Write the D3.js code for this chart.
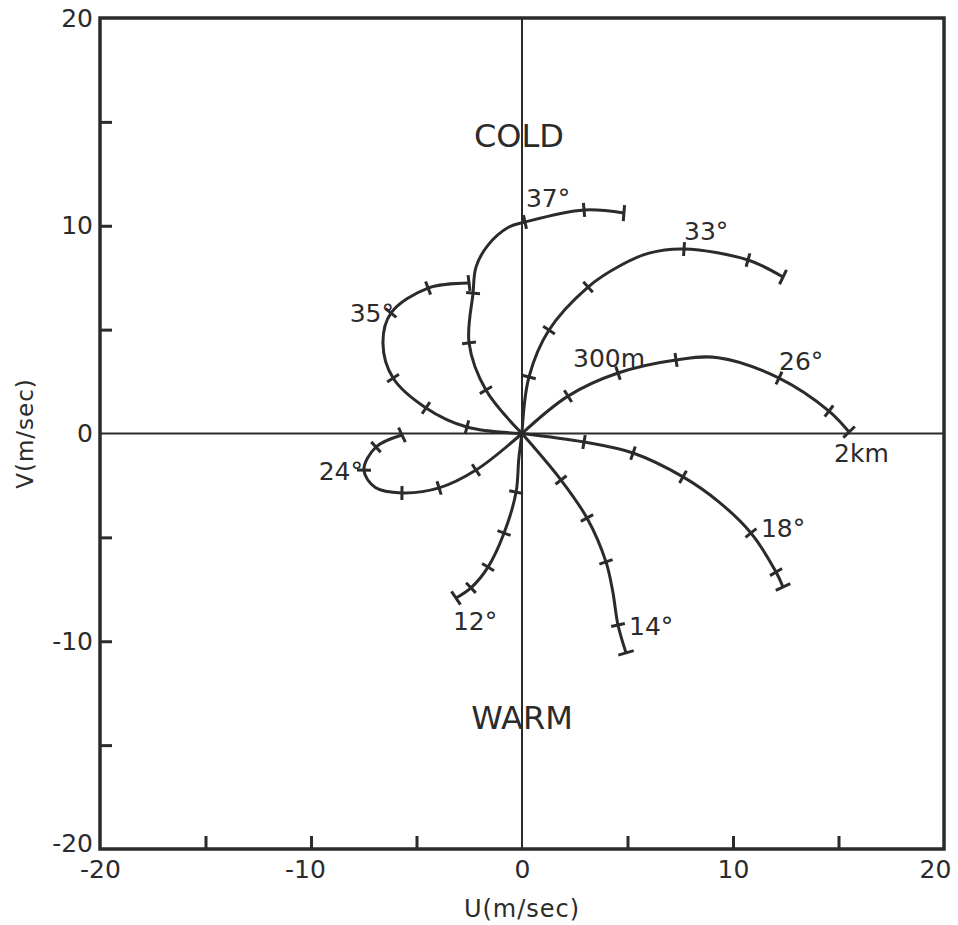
<!DOCTYPE html>
<html>
<head>
<meta charset="utf-8">
<script src="https://cdn.jsdelivr.net/npm/d3@7"></script>
<style>
  body { margin: 0; background: #fff; }
  text { font-family: "DejaVu Sans", sans-serif; fill: #2b2b2b; }
</style>
</head>
<body>
<svg width="958" height="925"></svg>
<script>
// hodograph points [u, v] in m/sec, surface to 2 km; third value 0 = no height mark
var lat37 = [[0,0],[-1.71,2.09],[-2.51,4.36],[-2.32,6.76],[-2.18,8.01,0],[-1.61,9.07,0],[-0.62,9.94,0],[0.14,10.18],[2.94,10.76],[4.83,10.61]];
var lat35 = [[0,0],[-2.61,0.31],[-4.55,1.23],[-6.11,2.67],[-6.59,4.36,0],[-6.21,5.80],[-4.45,7.00],[-2.51,7.24]];
var lat33 = [[0,0],[0.33,2.72],[1.28,4.98],[3.13,7.05],[4.6,8.05,0],[6.02,8.68,0],[7.68,8.88],[10.71,8.35],[12.37,7.53]];
var lat26 = [[0,0],[2.18,1.80],[4.55,2.91],[7.30,3.54],[9.3,3.65,0],[12.18,2.67],[14.55,1.08],[15.5,0.07]];
var lat24 = [[0,0],[-2.18,-1.76],[-3.93,-2.62],[-5.69,-2.86],[-6.95,-2.6,0],[-7.49,-1.76],[-6.92,-0.65],[-5.69,-0.07]];
var lat18 = [[0,0],[2.94,-0.41],[5.26,-0.94],[7.63,-2.09],[9.34,-3.3,0],[10.85,-4.79],[12.04,-6.67],[12.37,-7.39]];
var lat14 = [[0,0],[1.85,-2.24],[3.08,-4.07],[3.98,-6.18],[4.3,-7.6,0],[4.55,-9.22],[4.93,-10.56]];
var lat12 = [[0,0],[-0.15,-1.2,0],[-0.28,-2.82],[-0.85,-4.79],[-1.61,-6.43],[-2.42,-7.43],[-3.13,-7.92]];

var curveNames = ["37°", "35°", "33°", "26°", "24°", "18°", "14°", "12°"];
var curveData = [lat37, lat35, lat33, lat26, lat24, lat18, lat14, lat12];

var labelTicks = [-20, -10, 0, 10, 20];
var minorTicks = [-15, -10, -5, 5, 10, 15];

var svg = d3.select("svg"),
    ink = "#2b2b2b";

var x = d3.scaleLinear().domain([-20, 20]).range([100, 944]),
    y = d3.scaleLinear().domain([-20, 20]).range([849, 18]);

// tick labels
svg.append("g")
    .attr("transform", "translate(" + x(-20) + ",0)")
    .call(d3.axisLeft(y).tickValues(labelTicks).tickSize(0).tickPadding(7).tickFormat(String))
    .call(function(g) { g.select(".domain").remove(); })
    .selectAll("text")
      .style("font-size", "25px")
      .attr("fill", ink)
      .attr("y", function(d) { return d == -20 ? -6 : 0; });

svg.append("g")
    .attr("transform", "translate(0," + y(-20) + ")")
    .call(d3.axisBottom(x).tickValues(labelTicks).tickSize(0).tickPadding(11).tickFormat(String))
    .call(function(g) { g.select(".domain").remove(); })
    .selectAll("text")
      .style("font-size", "25px")
      .attr("fill", ink)
      .attr("x", function(d) { return d == 20 ? -9 : (d == -10 ? -6 : 0); });

// inward ticks
svg.append("g")
    .attr("transform", "translate(" + x(-20) + ",0)")
    .call(d3.axisRight(y).tickValues(minorTicks).tickSize(12).tickFormat(""))
    .call(function(g) { g.select(".domain").remove(); g.selectAll("line").attr("stroke", ink).attr("stroke-width", 3); });

svg.append("g")
    .attr("transform", "translate(0," + y(-20) + ")")
    .call(d3.axisTop(x).tickValues(minorTicks).tickSize(13).tickFormat(""))
    .call(function(g) { g.select(".domain").remove(); g.selectAll("line").attr("stroke", ink).attr("stroke-width", 3); });

// zero lines
svg.append("line")
    .attr("x1", x(-20)).attr("x2", x(20)).attr("y1", y(0)).attr("y2", y(0))
    .attr("stroke", ink).attr("stroke-width", 2);
svg.append("line")
    .attr("x1", x(0)).attr("x2", x(0)).attr("y1", y(-20)).attr("y2", y(20))
    .attr("stroke", ink).attr("stroke-width", 2);

// frame
svg.append("rect")
    .attr("x", x(-20)).attr("y", y(20))
    .attr("width", x(20) - x(-20)).attr("height", y(-20) - y(20))
    .attr("fill", "none").attr("stroke", ink).attr("stroke-width", 3.5);

// axis titles
svg.append("text")
    .attr("transform", "translate(33," + y(0) + ") rotate(-90)")
    .attr("text-anchor", "middle")
    .style("font-size", "23px")
    .style("letter-spacing", "1px")
    .text("V(m/sec)");

svg.append("text")
    .attr("x", x(0)).attr("y", 917)
    .attr("text-anchor", "middle")
    .style("font-size", "24px")
    .style("letter-spacing", "1px")
    .text("U(m/sec)");

// hodographs
var line = d3.line()
    .curve(d3.curveCatmullRom.alpha(0.5))
    .x(function(d) { return x(d[0]); })
    .y(function(d) { return y(d[1]); });

var hodo = svg.append("g");

curveData.forEach(function(pts, ci) {
  hodo.append("path")
      .datum(pts)
      .attr("fill", "none")
      .attr("stroke", ink)
      .attr("stroke-width", 3)
      .attr("stroke-linejoin", "round")
      .attr("d", line);

  // height marks, perpendicular to the curve
  pts.forEach(function(p, i) {
    if (i == 0 || p[2] === 0) return;
    var a = pts[i - 1], b = pts[Math.min(i + 1, pts.length - 1)];
    var tx = x(b[0]) - x(a[0]), ty = y(b[1]) - y(a[1]);
    var len = Math.sqrt(tx * tx + ty * ty), h = (i == pts.length - 1) ? 8 : 7;
    var nx = -ty / len * h, ny = tx / len * h;
    hodo.append("line")
        .attr("x1", x(p[0]) - nx).attr("y1", y(p[1]) - ny)
        .attr("x2", x(p[0]) + nx).attr("y2", y(p[1]) + ny)
        .attr("stroke", ink)
        .attr("stroke-width", 3);
  });
});

// labels hung on a point of a curve: [text, curve, point, dx, dy, anchor]
var labelPlace = [
  [curveNames[0], 0, 7, 1, -15, "start"],
  [curveNames[1], 1, 5, 3, 9, "end"],
  [curveNames[2], 2, 6, 0, -9, "start"],
  [curveNames[3], 3, 5, 0, -8, "start"],
  [curveNames[4], 4, 5, -1, 10, "end"],
  [curveNames[5], 5, 5, 10, 4, "start"],
  [curveNames[6], 6, 5, 11, 10, "start"],
  [curveNames[7], 7, 6, -3, 32, "start"],
  ["300m", 3, 2, -45, -6, "start"],
  ["2km", 3, 7, -15, 30, "start"]
];

svg.append("g").selectAll("text")
    .data(labelPlace)
  .enter().append("text")
    .attr("x", function(d) { return x(curveData[d[1]][d[2]][0]) + d[3]; })
    .attr("y", function(d) { return y(curveData[d[1]][d[2]][1]) + d[4]; })
    .attr("text-anchor", function(d) { return d[5]; })
    .style("font-size", "25px")
    .text(function(d) { return d[0]; });

svg.append("text")
    .attr("x", x(0) - 3).attr("y", y(13.8))
    .attr("text-anchor", "middle")
    .style("font-size", "32px")
    .text("COLD");

svg.append("text")
    .attr("x", x(0)).attr("y", y(-14.2))
    .attr("text-anchor", "middle")
    .style("font-size", "32px")
    .text("WARM");
</script>
</body>
</html>
